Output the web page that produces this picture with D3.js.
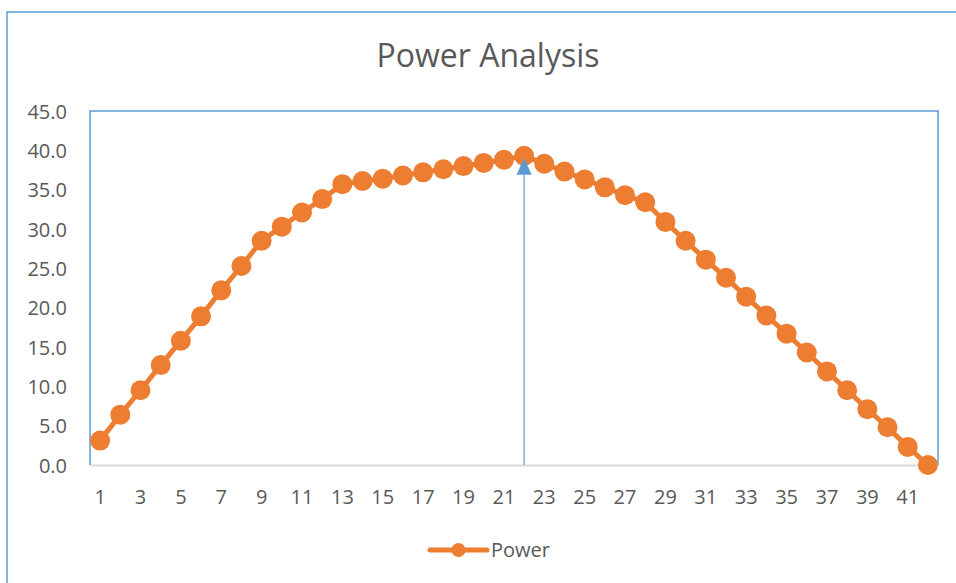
<!DOCTYPE html>
<html>
<head>
<meta charset="utf-8">
<script src="https://cdn.jsdelivr.net/npm/d3@7"></script>
<style>
  body { margin: 0; background: white; }
  text { font-family: "Open Sans", "Noto Sans", sans-serif; fill: #595959; }
</style>
</head>
<body>
<div id="chart"></div>
<script>
"use strict"

// power values, one per step 1..42
const steps = d3.range(1, 43);
const power = [
  3.1, 6.4, 9.5, 12.7, 15.8, 18.9, 22.2, 25.3, 28.5, 30.3,
  32.1, 33.8, 35.7, 36.1, 36.4, 36.8, 37.2, 37.6, 38.0, 38.4,
  38.8, 39.3, 38.3, 37.3, 36.3, 35.3, 34.3, 33.4, 30.9, 28.5,
  26.1, 23.8, 21.4, 19.0, 16.7, 14.3, 11.9, 9.5, 7.1, 4.8,
  2.3, 0.0
];
const yTicks = d3.range(0, 46, 5);
const title = "Power Analysis";
const seriesName = "Power";
const peakStep = 22;

const width = 956, height = 583;
const margin = { top: 111, right: 18, bottom: 118, left: 90 };

const orange = "#ED7D31";
const blue = "#5B9BD5";

let svg = d3.select("#chart").append("svg")
  .attr("width", width)
  .attr("height", height);

// chart frame (runs off the right and bottom edges)
svg.append("rect")
  .attr("x", 7)
  .attr("y", 12)
  .attr("width", width + 20)
  .attr("height", height + 20)
  .style("fill", "white")
  .style("stroke", blue)
  .style("stroke-width", 1.5);

svg.append("text")
  .attr("x", 488)
  .attr("y", 67)
  .attr("text-anchor", "middle")
  .style("font-size", "32px")
  .text(title);

let x = d3.scaleBand()
  .domain(steps)
  .range([margin.left, width - margin.right]);

let y = d3.scaleLinear()
  .domain([0, 45])
  .range([height - margin.bottom, margin.top]);

let cx = d => x(d) + x.bandwidth() / 2;

// plot area border
svg.append("path")
  .attr("d", `M${margin.left},${y(0)}V${y(45)}H${width - margin.right}V${y(0)}`)
  .style("fill", "none")
  .style("stroke", blue)
  .style("stroke-width", 1.5);

// y axis labels
let yAxis = svg.append("g")
  .attr("transform", `translate(${margin.left - 23},0)`)
  .call(d3.axisLeft(y).tickValues(yTicks).tickSize(0).tickFormat(d3.format(".1f")));
yAxis.select(".domain").remove();
yAxis.selectAll("text").style("font-size", "20px").attr("dy", "0.35em").attr("x", 0);

// x axis
let xAxis = svg.append("g")
  .attr("transform", `translate(0,${y(0)})`)
  .call(d3.axisBottom(x).tickValues(steps.filter(d => d % 2 === 1)).tickSize(0));
xAxis.select(".domain").style("stroke", "#D9D9D9").style("stroke-width", 2);
xAxis.selectAll("text").style("font-size", "20px").attr("y", 39).attr("dy", 0);

// series line and markers
let pts = steps.map((s, i) => [cx(s), y(power[i])]);

svg.append("path")
  .datum(pts)
  .attr("d", d3.line())
  .style("fill", "none")
  .style("stroke", orange)
  .style("stroke-width", 5)
  .style("stroke-linejoin", "round");

svg.append("g")
  .selectAll("circle")
  .data(pts)
  .join("circle")
  .attr("cx", d => d[0])
  .attr("cy", d => d[1])
  .attr("r", 10)
  .style("fill", orange);

// arrow marking the peak
let ax = cx(peakStep);
let tipY = y(power[peakStep - 1]) + 2;
svg.append("line")
  .attr("x1", ax).attr("x2", ax)
  .attr("y1", y(0)).attr("y2", tipY + 10)
  .style("stroke", blue)
  .style("stroke-width", 1.2);
svg.append("path")
  .attr("d", `M${ax},${tipY}L${ax - 7.5},${tipY + 17}L${ax + 7.5},${tipY + 17}Z`)
  .style("fill", blue);

// legend
let legend = svg.append("g").attr("transform", "translate(430,550)");
legend.append("line")
  .attr("x1", 0).attr("x2", 57)
  .style("stroke", orange)
  .style("stroke-width", 5)
  .style("stroke-linecap", "round");
legend.append("circle")
  .attr("cx", 28.5)
  .attr("r", 7)
  .style("fill", orange);
legend.append("text")
  .attr("x", 61)
  .attr("y", 7)
  .style("font-size", "20px")
  .text(seriesName);
</script>
</body>
</html>
